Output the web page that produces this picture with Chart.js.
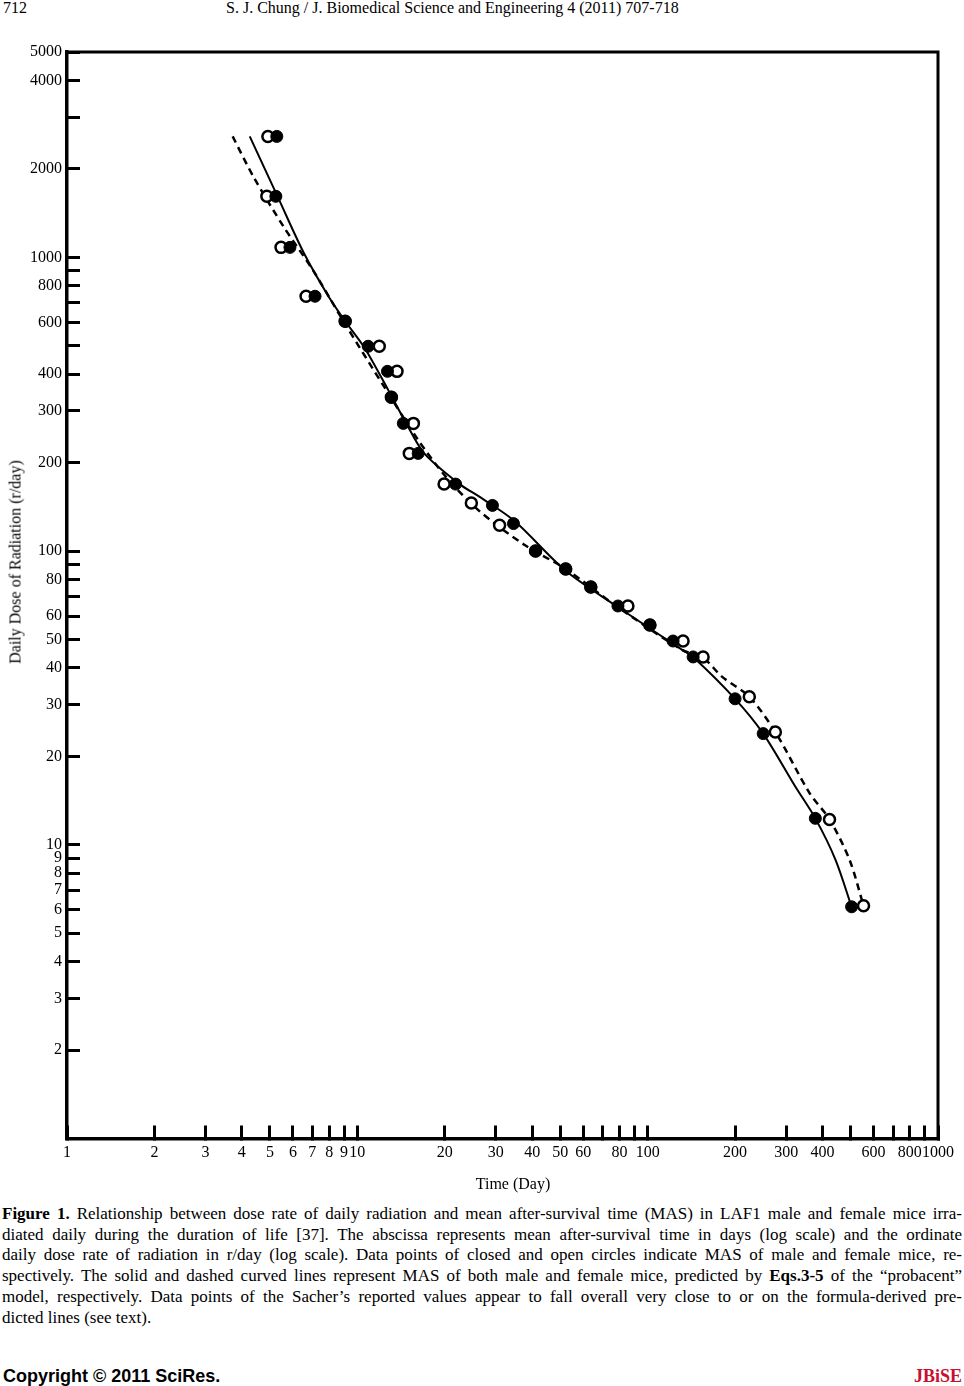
<!DOCTYPE html>
<html>
<head>
<meta charset="utf-8">
<script src="https://cdn.jsdelivr.net/npm/chart.js@4"></script>
<style>
  body { margin: 0; background: #fff; }
  #page { position: relative; width: 964px; height: 1386px; background: #fff; font-family: "Liberation Serif", "Times New Roman", serif; color: #000; }
  .hdr { position: absolute; top: -1px; font-size: 16px; line-height: 18px; white-space: nowrap; }
  #chart { position: absolute; left: 0; top: 0; }
  .axis-title { position: absolute; font-size: 16px; line-height: 19px; white-space: nowrap; transform: translate(-50%, -50%); }
  #yTitle { transform: translate(-50%, -50%) rotate(-90deg); }
  #caption { position: absolute; left: 2px; top: 1204px; width: 960px; font-size: 17px; line-height: 20.7px; }
  #caption .j { text-align: justify; text-align-last: justify; }
  #footer { position: absolute; left: 3px; top: 1366px; width: 959px; height: 20px; }
  #copy { position: absolute; left: 0; top: 0; font-family: "Liberation Sans", Arial, sans-serif; font-weight: bold; font-size: 18px; line-height: 20px; }
  #jbise { position: absolute; right: 0; top: 0; font-weight: bold; font-size: 18px; line-height: 20px; color: #c8102e; }
</style>
</head>
<body>
<div id="page">
  <div class="hdr" style="left:3px">712</div>
  <div class="hdr" style="left:226px">S. J. Chung / J. Biomedical Science and Engineering 4 (2011) 707-718</div>
  <canvas id="chart" width="964" height="1200"></canvas>
  <div class="axis-title" id="xTitle" style="left:513px; top:1183px">Time (Day)</div>
  <div class="axis-title" id="yTitle" style="left:14.5px; top:562px">Daily Dose of Radiation (r/day)</div>
  <div id="caption">
    <div class="j"><b>Figure 1.</b> Relationship between dose rate of daily radiation and mean after-survival time (MAS) in LAF1 male and female mice irra-</div>
    <div class="j">diated daily during the duration of life [37]. The abscissa represents mean after-survival time in days (log scale) and the ordinate</div>
    <div class="j">daily dose rate of radiation in r/day (log scale). Data points of closed and open circles indicate MAS of male and female mice, re-</div>
    <div class="j">spectively. The solid and dashed curved lines represent MAS of both male and female mice, predicted by <b>Eqs.3-5</b> of the “probacent”</div>
    <div class="j">model, respectively. Data points of the Sacher’s reported values appear to fall overall very close to or on the formula-derived pre-</div>
    <div>dicted lines (see text).</div>
  </div>
  <div id="footer">
    <div id="copy">Copyright © 2011 SciRes.</div>
    <div id="jbise">JBiSE</div>
  </div>
</div>
<script>
// tick marks and labels on both log axes
const xTickValues = [1, 2, 3, 4, 5, 6, 7, 8, 9, 10, 20, 30, 40, 50, 60, 70, 80, 90, 100, 200, 300, 400, 500, 600, 700, 800, 900, 1000]
const xTickLabels = [1, 2, 3, 4, 5, 6, 7, 8, 9, 10, 20, 30, 40, 50, 60, 80, 100, 200, 300, 400, 600, 800, 1000]
const yTickValues = [2, 3, 4, 5, 6, 7, 8, 9, 10, 20, 30, 40, 50, 60, 70, 80, 90, 100, 200, 300, 400, 500, 600, 700, 800, 900, 1000, 2000, 3000, 4000, 5000]
const yTickLabels = [2, 3, 4, 5, 6, 7, 8, 9, 10, 20, 30, 40, 50, 60, 80, 100, 200, 300, 400, 600, 800, 1000, 2000, 4000, 5000]

// observed MAS (days) vs daily dose (r/day)
const maleDays = [5.28, 5.24, 5.86, 7.15, 9.08, 10.9, 12.7, 13.1, 14.4, 16.2, 21.8, 29.2, 34.5, 41.1, 52.2, 63.7, 79.0, 101.8, 122.3, 143.4, 200, 250, 378, 504]
const maleDose = [2580, 1613, 1081, 737, 606, 498, 409, 334, 272, 215, 169, 143, 124, 100, 86.9, 75.4, 65.0, 56.0, 49.4, 43.6, 31.4, 23.9, 12.3, 6.15]
const femaleDays = [4.92, 4.88, 5.46, 6.66, 9.08, 11.9, 13.7, 13.1, 15.6, 15.1, 19.9, 24.7, 30.9, 41.1, 52.2, 63.7, 85.5, 101.8, 132.4, 155.2, 223.9, 275.3, 423, 554]
const femaleDose = [2580, 1613, 1081, 737, 606, 498, 409, 334, 272, 215, 169, 145.7, 122.5, 100, 86.9, 75.4, 65.0, 56.0, 49.4, 43.6, 31.9, 24.2, 12.2, 6.2]

// predicted curves (probacent model)
const malePredDays = [4.26, 5.33, 6.55, 7.99, 9.08, 10.56, 12.78, 14.74, 17.0, 22.5, 26.8, 34.8, 51.8, 77.1, 131.4, 143.4, 200, 250, 322.8, 378, 443.6, 504]
const malePredDose = [2580, 1600, 1032, 731, 606, 494, 353, 272, 215, 169, 151.4, 126.5, 86.2, 65.5, 46.1, 43.6, 31.4, 23.9, 15.75, 12.3, 8.89, 6.15]
const femalePredDays = [3.72, 4.40, 5.59, 7.04, 9.00, 12.58, 16.2, 20.1, 26.1, 37.7, 52.2, 77.1, 131.4, 155.2, 180.6, 223.9, 275.3, 360.6, 423, 495.8, 554]
const femalePredDose = [2580, 1871, 1265, 903, 601, 353, 238.7, 179.9, 137.8, 104.8, 86.9, 65.5, 46.1, 43.3, 37.3, 31.9, 24.2, 15.03, 12.2, 8.89, 6.2]

const toPoints = (xs, ys) => xs.map((x, i) => ({ x: x, y: ys[i] }))

// top and right edges of the plot box
const frame = {
    id: "frame",
    beforeDatasetsDraw(chart) {
        const { ctx, chartArea: a } = chart
        ctx.save()
        ctx.strokeStyle = "#000"
        ctx.lineWidth = 3
        ctx.beginPath()
        ctx.moveTo(a.left, a.top)
        ctx.lineTo(a.right, a.top)
        ctx.lineTo(a.right, a.bottom)
        ctx.stroke()
        ctx.restore()
    }
}

Chart.defaults.font.family = "'Liberation Serif', 'Times New Roman', serif"
Chart.defaults.font.size = 16
Chart.defaults.color = "#000"

new Chart(document.getElementById("chart"), {
    type: "scatter",
    data: {
        datasets: [{
            label: "Male",
            data: toPoints(maleDays, maleDose),
            pointRadius: 6,
            pointBackgroundColor: "#000",
            pointBorderColor: "#000",
            pointBorderWidth: 1
        }, {
            label: "Female",
            data: toPoints(femaleDays, femaleDose),
            pointRadius: 5.5,
            pointBackgroundColor: "#fff",
            pointBorderColor: "#000",
            pointBorderWidth: 2.5
        }, {
            label: "Male predicted",
            data: toPoints(malePredDays, malePredDose),
            showLine: true,
            pointRadius: 0,
            borderColor: "#000",
            borderWidth: 2,
            tension: 0.3
        }, {
            label: "Female predicted",
            data: toPoints(femalePredDays, femalePredDose),
            showLine: true,
            pointRadius: 0,
            borderColor: "#000",
            borderWidth: 2.5,
            borderDash: [7, 5],
            tension: 0.3
        }]
    },
    options: {
        responsive: false,
        animation: false,
        devicePixelRatio: 1,
        layout: { padding: { top: 52, right: 26, left: 0, bottom: 0 } },
        plugins: {
            legend: { display: false },
            tooltip: { enabled: false }
        },
        scales: {
            x: {
                type: "logarithmic",
                position: "bottom",
                min: 1,
                max: 1000,
                afterBuildTicks: s => { s.ticks = xTickValues.map(v => ({ value: v })) },
                afterFit: s => {
                    s.height = 61.5
                    s.paddingLeft = 0
                    s.paddingRight = 0
                },
                ticks: {
                    autoSkip: false,
                    maxRotation: 0,
                    padding: 18,
                    callback: v => xTickLabels.includes(v) ? String(v) : ""
                },
                grid: { drawOnChartArea: false, tickLength: -13, lineWidth: 3, color: "#000" },
                border: { color: "#000", width: 3.5 }
            },
            y: {
                type: "logarithmic",
                position: "left",
                min: 1,
                max: 5000,
                afterBuildTicks: s => { s.ticks = yTickValues.map(v => ({ value: v })) },
                afterFit: s => {
                    s.width = 67
                    s.paddingTop = 0
                    s.paddingBottom = 0
                },
                ticks: {
                    autoSkip: false,
                    padding: 18,
                    callback: v => yTickLabels.includes(v) ? String(v) : ""
                },
                grid: { drawOnChartArea: false, tickLength: -13, lineWidth: 3, color: "#000" },
                border: { color: "#000", width: 3.5 }
            }
        }
    },
    plugins: [frame]
})
</script>
</body>
</html>
